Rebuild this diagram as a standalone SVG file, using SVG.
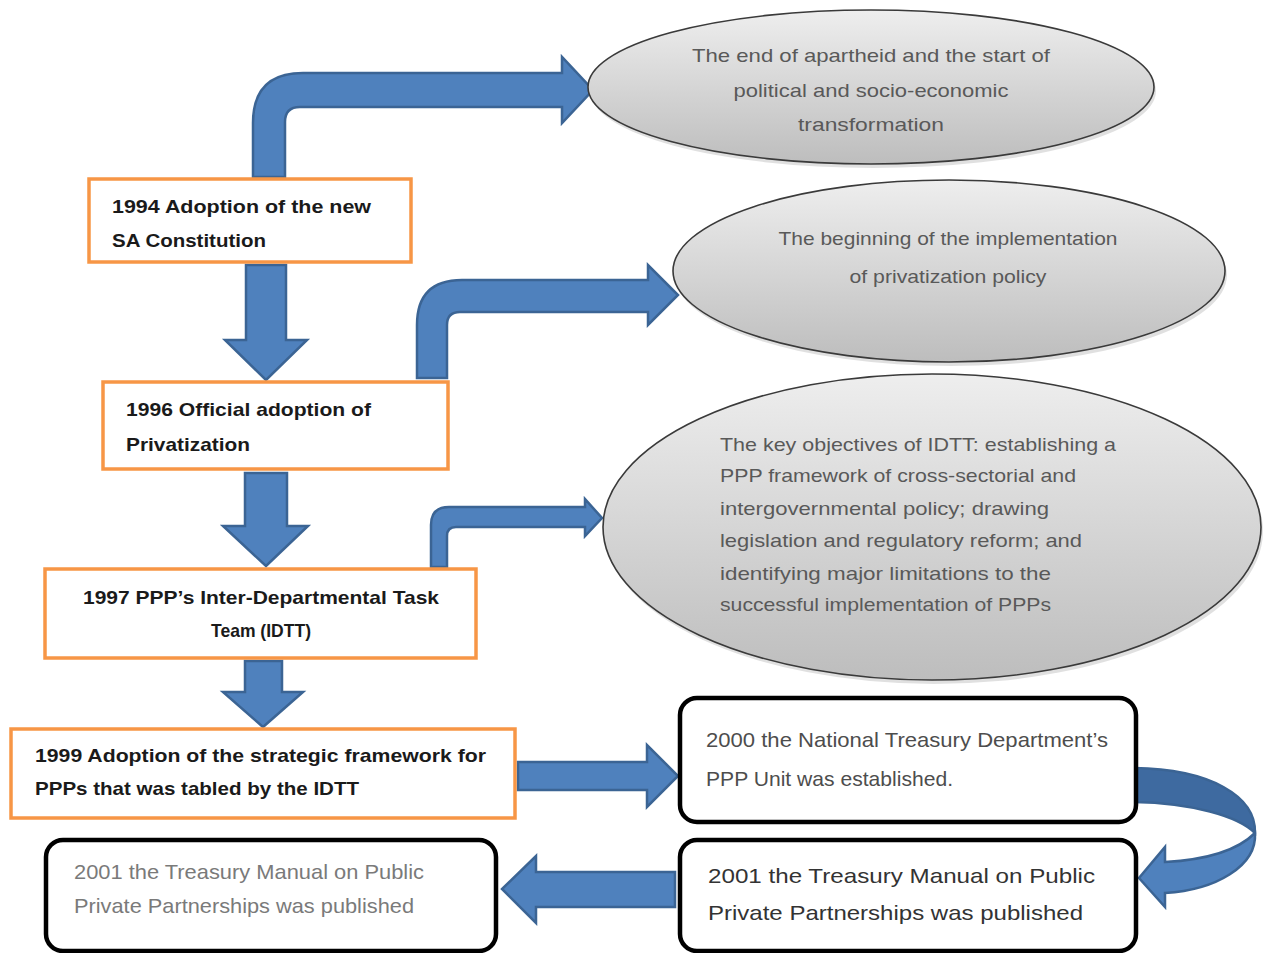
<svg xmlns="http://www.w3.org/2000/svg" width="1265" height="953" viewBox="0 0 1265 953">
<style>
.bg{fill:#ffffff}
.ob{fill:#ffffff;stroke:#f79646;stroke-width:3.5}
.kb{fill:#ffffff;stroke:#000000;stroke-width:4.5}
.el{fill:url(#eg);stroke:#3a3a3a;stroke-width:1.6}
.sh{fill:#000000;opacity:0.12}
.ar{fill:#4f81bd;stroke:#3b6494;stroke-width:2.5;stroke-linejoin:miter}
.arb{fill:#3e6aa0;stroke:#3b6494;stroke-width:2.5}
.tb{font-family:"Liberation Sans",Arial,sans-serif;font-weight:bold;font-size:19px;fill:#1a1a1a}
.te{font-family:"Liberation Sans",Arial,sans-serif;font-size:19px;fill:#595959}
.tk{font-family:"Liberation Sans",Arial,sans-serif;font-size:21px}
</style>
<defs>
<linearGradient id="eg" x1="0" y1="0" x2="0" y2="1">
<stop offset="0" stop-color="#eeeeee"/>
<stop offset="1" stop-color="#bdbdbd"/>
</linearGradient>
</defs>
<rect class="bg" x="0" y="0" width="1265" height="953"/>

<g id="connectors">
<path class="ar" d="M253,177 L253,123 Q253,73 303,73 L562,73 L562,57 L593,90 L562,123 L562,107 L300,107 Q285,107 285,122 L285,177 Z"/>
<path class="ar" d="M417,378 L417,325 Q417,280 462,280 L648,280 L648,265 L678,295 L648,325 L648,312 L460,312 Q447,312 447,325 L447,378 Z"/>
<path class="ar" d="M431,567 L431,525 Q431,507 449,507 L585,507 L585,499 L602,518 L585,536 L585,527 L456,527 Q447,527 447,536 L447,567 Z"/>
<path class="ar" d="M246,265 L286,265 L286,340 L307,340 L266,380 L225,340 L246,340 Z"/>
<path class="ar" d="M245,473 L287,473 L287,526 L308,526 L266,566 L223,526 L245,526 Z"/>
<path class="ar" d="M245,661 L282,661 L282,692 L303,692 L263,727 L223,692 L245,692 Z"/>
<path class="ar" d="M518,762 L647,762 L647,745 L678,776 L647,807 L647,790 L518,790 Z"/>
<path class="ar" d="M675,872 L536,872 L536,856 L502,889 L536,923 L536,907 L675,907 Z"/>
<path class="arb" d="M1134,768 C1210,769 1256,796 1255,833 C1238,816 1192,803 1134,802 Z"/>
<path class="ar" d="M1255,833 C1257,866 1216,890 1165,893 L1165,907 L1139,878 L1165,847 L1165,862 C1202,860 1236,852 1255,833 Z"/>
</g>

<g id="node-e1">
<ellipse class="sh" cx="873" cy="91" rx="283" ry="77"/>
<ellipse class="el" cx="871" cy="87" rx="283" ry="77"/>
<text class="te" x="871" y="62" text-anchor="middle" textLength="358" lengthAdjust="spacingAndGlyphs">The end of apartheid and the start of</text>
<text class="te" x="871" y="97" text-anchor="middle" textLength="275" lengthAdjust="spacingAndGlyphs">political and socio-economic</text>
<text class="te" x="871" y="131" text-anchor="middle" textLength="146" lengthAdjust="spacingAndGlyphs">transformation</text>
</g>

<g id="node-e2">
<ellipse class="sh" cx="951" cy="275" rx="276" ry="91"/>
<ellipse class="el" cx="949" cy="271" rx="276" ry="91"/>
<text class="te" x="948" y="245" text-anchor="middle" font-size="22" textLength="339" lengthAdjust="spacingAndGlyphs">The beginning of the implementation</text>
<text class="te" x="948" y="283" text-anchor="middle" font-size="22" textLength="197" lengthAdjust="spacingAndGlyphs">of privatization policy</text>
</g>

<g id="node-e3">
<ellipse class="sh" cx="934" cy="531" rx="329" ry="153"/>
<ellipse class="el" cx="932" cy="527" rx="329" ry="153"/>
<text class="te" x="720" y="451" textLength="396" lengthAdjust="spacingAndGlyphs">The key objectives of IDTT:  establishing a</text>
<text class="te" x="720" y="482" textLength="356" lengthAdjust="spacingAndGlyphs">PPP framework of cross-sectorial and</text>
<text class="te" x="720" y="515" textLength="329" lengthAdjust="spacingAndGlyphs">intergovernmental policy; drawing</text>
<text class="te" x="720" y="547" textLength="362" lengthAdjust="spacingAndGlyphs">legislation and regulatory reform; and</text>
<text class="te" x="720" y="580" textLength="331" lengthAdjust="spacingAndGlyphs">identifying major limitations to the</text>
<text class="te" x="720" y="611" textLength="331" lengthAdjust="spacingAndGlyphs">successful implementation of PPPs</text>
</g>

<g id="node-1994">
<rect class="ob" x="89" y="179" width="322" height="83"/>
<text class="tb" x="112" y="213" textLength="259" lengthAdjust="spacingAndGlyphs">1994 Adoption of the new</text>
<text class="tb" x="112" y="247" textLength="154" lengthAdjust="spacingAndGlyphs">SA Constitution</text>
</g>

<g id="node-1996">
<rect class="ob" x="103" y="382" width="345" height="87"/>
<text class="tb" x="126" y="416" textLength="245" lengthAdjust="spacingAndGlyphs">1996 Official adoption of</text>
<text class="tb" x="126" y="451" textLength="124" lengthAdjust="spacingAndGlyphs">Privatization</text>
</g>

<g id="node-1997">
<rect class="ob" x="45" y="569" width="431" height="89"/>
<text class="tb" x="261" y="604" text-anchor="middle" textLength="356" lengthAdjust="spacingAndGlyphs">1997 PPP’s Inter-Departmental Task</text>
<text class="tb" x="261" y="637" text-anchor="middle" textLength="100" lengthAdjust="spacingAndGlyphs">Team (IDTT)</text>
</g>

<g id="node-1999">
<rect class="ob" x="11" y="729" width="504" height="89"/>
<text class="tb" x="35" y="762" textLength="451" lengthAdjust="spacingAndGlyphs">1999 Adoption of the strategic framework for</text>
<text class="tb" x="35" y="795" textLength="324" lengthAdjust="spacingAndGlyphs">PPPs that was tabled by the IDTT</text>
</g>

<g id="node-2000">
<rect class="kb" x="680" y="698" width="456" height="124" rx="17"/>
<text class="tk" x="706" y="747" fill="#4d4d4d" textLength="402" lengthAdjust="spacingAndGlyphs">2000 the National Treasury Department’s</text>
<text class="tk" x="706" y="786" fill="#4d4d4d" textLength="247" lengthAdjust="spacingAndGlyphs">PPP Unit was established.</text>
</g>

<g id="node-2001a">
<rect class="kb" x="680" y="840" width="456" height="111" rx="17"/>
<text class="tk" x="708" y="883" fill="#333333" textLength="387" lengthAdjust="spacingAndGlyphs">2001 the Treasury Manual on Public</text>
<text class="tk" x="708" y="920" fill="#333333" textLength="375" lengthAdjust="spacingAndGlyphs">Private Partnerships was published</text>
</g>

<g id="node-2001b">
<rect class="kb" x="46" y="840" width="450" height="111" rx="17"/>
<text class="tk" x="74" y="879" font-size="19" fill="#7a7a7a" textLength="350" lengthAdjust="spacingAndGlyphs">2001 the Treasury Manual on Public</text>
<text class="tk" x="74" y="913" font-size="19" fill="#7a7a7a" textLength="340" lengthAdjust="spacingAndGlyphs">Private Partnerships was published</text>
</g>
</svg>
